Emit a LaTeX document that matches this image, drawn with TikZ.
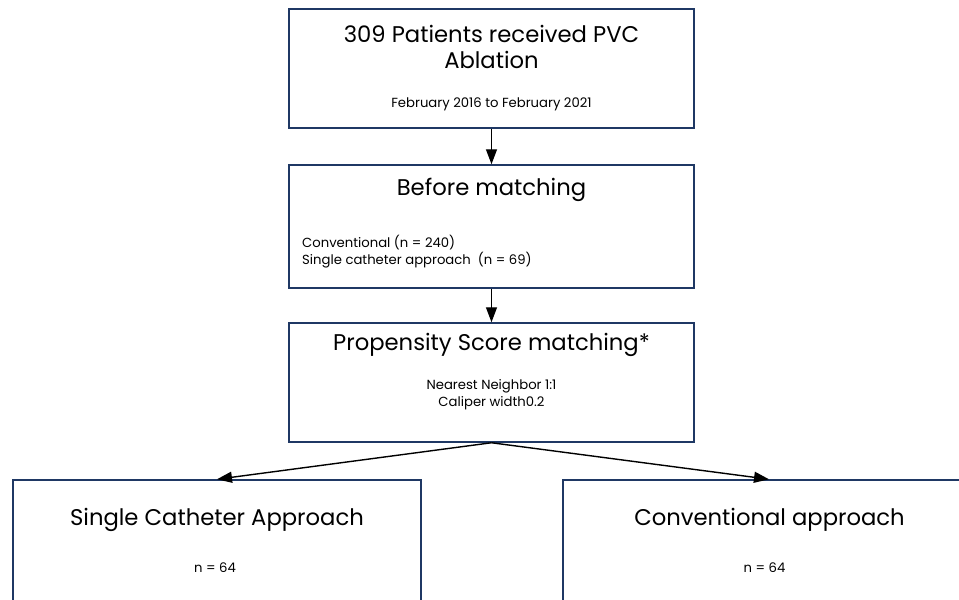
\documentclass[tikz,border=0pt]{standalone}
\usepackage{fontspec}
\setmainfont{Poppins}
\usetikzlibrary{arrows.meta}
\definecolor{boxblue}{HTML}{1F3864}
\tikzset{
  box/.style={draw=boxblue, line width=1.5pt, minimum width=405pt, minimum height=119pt, inner sep=0pt},
  title/.style={font=\fontsize{22.7}{26}\selectfont, anchor=base, inner sep=0pt},
  small/.style={font=\fontsize{13.2}{17}\selectfont, anchor=base, inner sep=0pt},
  flow/.style={-{Triangle[length=15pt,width=11pt]}, line width=1.4pt}
}
\begin{document}
\begin{tikzpicture}[x=1pt,y=-1pt]
\useasboundingbox (0,0) rectangle (959,600);

% boxes
\node[box] (patients) at (491.5,68.5) {};
\node[box, minimum height=123pt] (before) at (491.5,226.5) {};
\node[box] (psm) at (491.5,382.5) {};
\node[box, minimum width=408pt, minimum height=123pt] (single) at (217,541.5) {};
\node[box, minimum width=412pt, minimum height=123pt] (conv) at (769,541.5) {};

% texts
\node[title] (patientsA) at (491.5,42) {309 Patients received PVC};
\node[title] (patientsB) at (491.5,68) {Ablation};
\node[small] (period) at (491.5,107) {February 2016 to February 2021};

\node[title] (beforeT) at (491.5,195) {Before matching};
\node[small, anchor=base west] (beforeA) at (302,247) {Conventional (n = 240)};
\node[small, anchor=base west] (beforeB) at (302,264) {Single catheter approach\ \ (n = 69)};

\node[title] (psmT) at (491.5,350) {Propensity Score matching*};
\node[small] (psmA) at (491.5,389) {Nearest Neighbor 1:1};
\node[small] (psmB) at (491.5,406) {Caliper width0.2};

\node[title] (singleT) at (217,525) {Single Catheter Approach};
\node[small] (singleN) at (215,572) {n = 64};
\node[title] (convT) at (769.5,525) {Conventional approach};
\node[small] (convN) at (764.5,572) {n = 64};

% arrows
\draw[flow] (patients) -- (before);
\draw[flow] (before) -- (psm);
\draw[flow] (psm.south) -- (single.north);
\draw[flow] (psm.south) -- (conv.north);
\end{tikzpicture}
\end{document}
